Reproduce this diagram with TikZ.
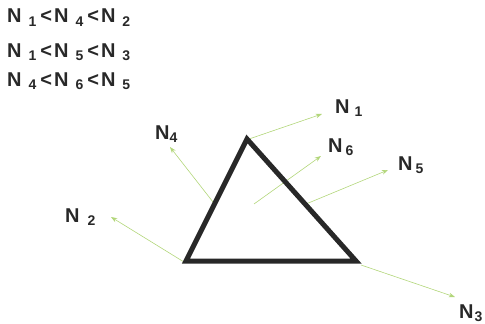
\documentclass[tikz,border=0pt]{standalone}
\usepackage{fontspec}
\setmainfont{Liberation Sans}
\usetikzlibrary{arrows.meta}
\definecolor{nGreen}{RGB}{178,214,122}
\definecolor{dInk}{RGB}{40,40,40}
\tikzset{
  ineq/.style={anchor=base west, inner sep=0pt, font=\fontsize{20}{20}\selectfont\bfseries, text=dInk},
  nlbl/.style={anchor=base west, inner sep=0pt, font=\fontsize{20}{20}\selectfont\bfseries, text=dInk},
  normal/.style={-{Stealth[length=2.2mm,width=1.6mm]}, draw=nGreen, line width=0.6pt},
  tri/.style={draw=dInk, line width=5pt, line join=miter},
}
\newcommand{\Nsub}[2][7pt]{N\hspace{#1}\textsubscript{#2}}
\newcommand{\lt}{\hspace{3.5pt}<\hspace{2pt}}
\begin{document}
\begin{tikzpicture}[x=1pt,y=-1pt]
  \useasboundingbox (0,0) rectangle (485,324);
  % ordering of the normals
  \node[ineq] (r1) at (7,23) {\Nsub{1}\lt\Nsub{4}\lt\Nsub{2}};
  \node[ineq] (r2) at (7,57) {\Nsub{1}\lt\Nsub{5}\lt\Nsub{3}};
  \node[ineq] (r3) at (7,86) {\Nsub{4}\lt\Nsub{6}\lt\Nsub{5}};
  % triangle corners
  \coordinate (A) at (247,139);
  \coordinate (B) at (186,261);
  \coordinate (C) at (356,261);
  % points where the normals start
  \coordinate (s1) at (249,139);
  \coordinate (s4) at (213,202);
  \coordinate (s6) at (254,204);
  \coordinate (s5) at (306,204);
  \coordinate (s2) at (184,262);
  \coordinate (s3) at (361,265);
  % arrow tips
  \coordinate (t1) at (322,114);
  \coordinate (t4) at (170,147);
  \coordinate (t6) at (321,156);
  \coordinate (t5) at (388,170);
  \coordinate (t2) at (111,217);
  \coordinate (t3) at (455,297);
  % labels
  \node[nlbl] (n1) at (335,113) {\Nsub[5pt]{1}};
  \node[nlbl] (n4) at (155,139) {\Nsub[0pt]{4}};
  \node[nlbl] (n6) at (328,152) {\Nsub[3pt]{6}};
  \node[nlbl] (n5) at (398,170) {\Nsub[3pt]{5}};
  \node[nlbl] (n2) at (65,222) {\Nsub[8pt]{2}};
  \node[nlbl] (n3) at (459,318) {\Nsub[1pt]{3}};
  % normals
  \foreach \i in {1,4,6,5,2,3}
    \draw[normal] (s\i) -- (t\i);
  % the triangle
  \draw[tri] (A) -- (B) -- (C) -- cycle;
\end{tikzpicture}
\end{document}
